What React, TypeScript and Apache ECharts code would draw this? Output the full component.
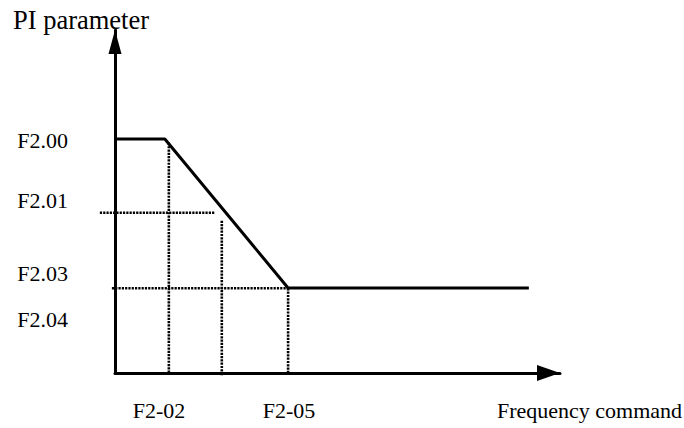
import React, { useEffect, useRef } from "react";
import * as echarts from "echarts";

// Tick labels and where they sit on each axis
const yTickLabels = ["F2.00", "F2.01", "F2.03", "F2.04"];
const yTickValues = [67.7, 50.4, 28.9, 15.5];
const xTickLabels = ["F2-02", "F2-05"];
const xTickValues = [9.9, 39.1];
const yAxisName = "PI parameter";
const xAxisName = "Frequency command";

// PI parameter curve
const curveX = [0, 11.2, 38.9, 93.0];
const curveY = [68.2, 68.2, 24.8, 24.8];

// Dotted guide segments (start/end)
const guideX = [
  [12.1, 12.1],
  [-3.4, 22.5],
  [24.0, 24.0],
  [-0.7, 38.9],
  [38.9, 38.9],
];
const guideY = [
  [67.1, 0],
  [46.7, 46.7],
  [44.4, -0.9],
  [24.7, 24.7],
  [24.7, 0],
];

const FONT = "'Liberation Serif', 'Times New Roman', serif";

function pick(values: number[], labels: string[], v: number) {
  const i = values.findIndex((t) => Math.abs(t - v) < 1e-6);
  return i >= 0 ? labels[i] : "";
}

export default function App() {
  const ref = useRef<HTMLDivElement>(null);
  useEffect(() => {
    if (!ref.current) return;
    const chart = echarts.init(ref.current, null, { renderer: "svg" });
    const guideData = guideX.map((xs, k) => [xs[0], guideY[k][0], xs[1], guideY[k][1]]);
    chart.setOption({
      animation: false,
      backgroundColor: "#fff",
      grid: {
        left: 115,
        right: 124,
        top: 30,
        bottom: 55,
        containLabel: false,
        outerBoundsMode: "none",
      },
      xAxis: {
        type: "value",
        min: 0,
        max: 100,
        splitLine: { show: false },
        axisTick: { show: false },
        axisLine: {
          show: true,
          symbol: ["none", "triangle"],
          symbolSize: [16, 23],
          symbolOffset: [0, -11.5],
          lineStyle: { color: "#000", width: 3 },
        },
        axisLabel: {
          customValues: xTickValues,
          formatter: (v: number) => pick(xTickValues, xTickLabels, v),
          color: "#000",
          fontFamily: FONT,
          fontSize: 22,
          margin: 26,
        },
        name: xAxisName,
        nameLocation: "end",
        nameGap: -63,
        nameTextStyle: {
          color: "#000",
          fontFamily: FONT,
          fontSize: 22,
          align: "left",
          verticalAlign: "top",
          padding: [26, 0, 0, 0],
        },
      },
      yAxis: {
        type: "value",
        min: 0,
        max: 100,
        splitLine: { show: false },
        axisTick: { show: false },
        axisLine: {
          show: true,
          symbol: ["none", "triangle"],
          symbolSize: [13, 24],
          symbolOffset: [0, -12],
          lineStyle: { color: "#000", width: 3 },
        },
        axisLabel: {
          customValues: yTickValues,
          formatter: (v: number) => pick(yTickValues, yTickLabels, v),
          color: "#000",
          fontFamily: FONT,
          fontSize: 22,
          margin: 47,
        },
        name: yAxisName,
        nameLocation: "end",
        nameGap: 10,
        nameTextStyle: {
          color: "#000",
          fontFamily: FONT,
          fontSize: 26.5,
          align: "center",
          verticalAlign: "middle",
          padding: [0, 68, 0, 0],
        },
      },
      series: [
        {
          type: "custom",
          data: guideData,
          encode: { x: [0, 2], y: [1, 3] },
          clip: false,
          silent: true,
          z: 1,
          renderItem: (_params: any, api: any) => {
            const p1 = api.coord([api.value(0), api.value(1)]);
            const p2 = api.coord([api.value(2), api.value(3)]);
            return {
              type: "line",
              shape: { x1: p1[0], y1: p1[1], x2: p2[0], y2: p2[1] },
              style: { stroke: "#000", lineWidth: 2.6, lineDash: [2.2, 1.1], fill: null },
            };
          },
        },
        {
          type: "line",
          data: curveX.map((x, i) => [x, curveY[i]]),
          symbol: "none",
          silent: true,
          clip: false,
          lineStyle: { color: "#000", width: 3 },
          z: 3,
        },
      ],
    });
    return () => chart.dispose();
  }, []);
  return (
    <div
      ref={ref}
      style={{ position: "fixed", left: 0, top: 0, width: 684, height: 428, background: "#fff" }}
    />
  );
}
